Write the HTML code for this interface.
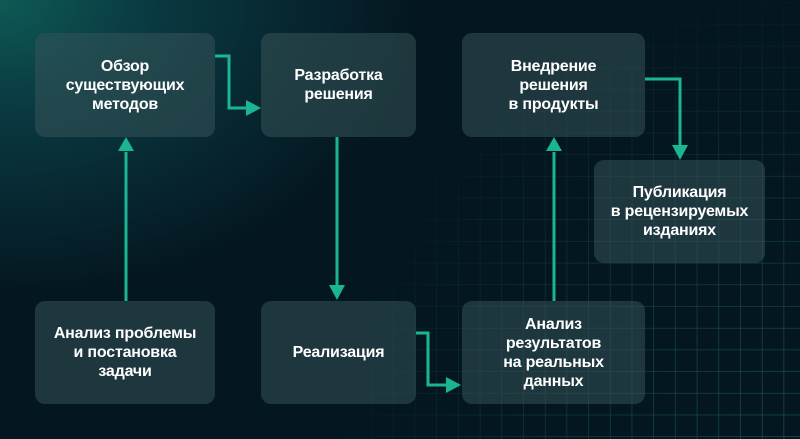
<!DOCTYPE html>
<html><head><meta charset="utf-8"><style>
html,body{margin:0;padding:0}
body{width:800px;height:439px;overflow:hidden;position:relative;
background:radial-gradient(ellipse 420px 300px at 0px 0px,#0e5a55 0%,#0a3a42 35%,rgba(6,26,36,0) 100%),#041620;
font-family:"Liberation Sans","Noto Sans CJK SC",sans-serif}
.grid{position:absolute;left:0;top:0}
.box{position:absolute;background:rgba(52,84,88,0.55);border-radius:10px;color:#fff;
display:flex;align-items:center;justify-content:center;text-align:center;font-size:16px;line-height:19px;font-weight:bold;letter-spacing:-0.2px}
</style></head><body>
<svg class="grid" width="800" height="439">
<defs>
<pattern id="g" x="3" y="3" width="21.7" height="21.7" patternUnits="userSpaceOnUse">
<path d="M21.7 0V21.7M0 21.7H21.7" stroke="#1c5a55" stroke-width="1.3" fill="none"/>
</pattern>
<radialGradient id="rg" cx="800" cy="439" r="480" gradientUnits="userSpaceOnUse">
<stop offset="0" stop-color="#fff" stop-opacity="1"/>
<stop offset="0.5" stop-color="#fff" stop-opacity="0.65"/>
<stop offset="1" stop-color="#fff" stop-opacity="0"/>
</radialGradient>
<mask id="m"><rect width="800" height="439" fill="url(#rg)"/></mask>
</defs>
<rect width="800" height="439" fill="url(#g)" mask="url(#m)"/>
</svg>
<div class="box" style="left:35px;top:33px;width:180px;height:104px">Обзор<br>существующих<br>методов</div>
<div class="box" style="left:261px;top:33px;width:155px;height:104px">Разработка<br>решения</div>
<div class="box" style="left:462px;top:33px;width:183px;height:104px">Внедрение<br>решения<br>в продукты</div>
<div class="box" style="left:594px;top:160px;width:171px;height:103px">Публикация<br>в рецензируемых<br>изданиях</div>
<div class="box" style="left:35px;top:301px;width:180px;height:103px">Анализ проблемы<br>и постановка<br>задачи</div>
<div class="box" style="left:261px;top:301px;width:155px;height:103px">Реализация</div>
<div class="box" style="left:462px;top:301px;width:183px;height:103px">Анализ<br>результатов<br>на реальных<br>данных</div>
<svg class="grid" width="800" height="439">
<g stroke="#1bb592" stroke-width="3" fill="none">
<path d="M215 56H229V108H248"/>
<path d="M126 301V152"/>
<path d="M337 137V286"/>
<path d="M416 333H428V385H448"/>
<path d="M554 301V152"/>
<path d="M645 79H680V146"/>
</g>
<g fill="#1bb592">
<path d="M261 108L246 100V116Z"/>
<path d="M126 137L118 151H134Z"/>
<path d="M337 300L329 285H345Z"/>
<path d="M461 385L446 377V393Z"/>
<path d="M554 137L546 151H562Z"/>
<path d="M680 160L672 145H688Z"/>
</g>
</svg>
</body></html>
